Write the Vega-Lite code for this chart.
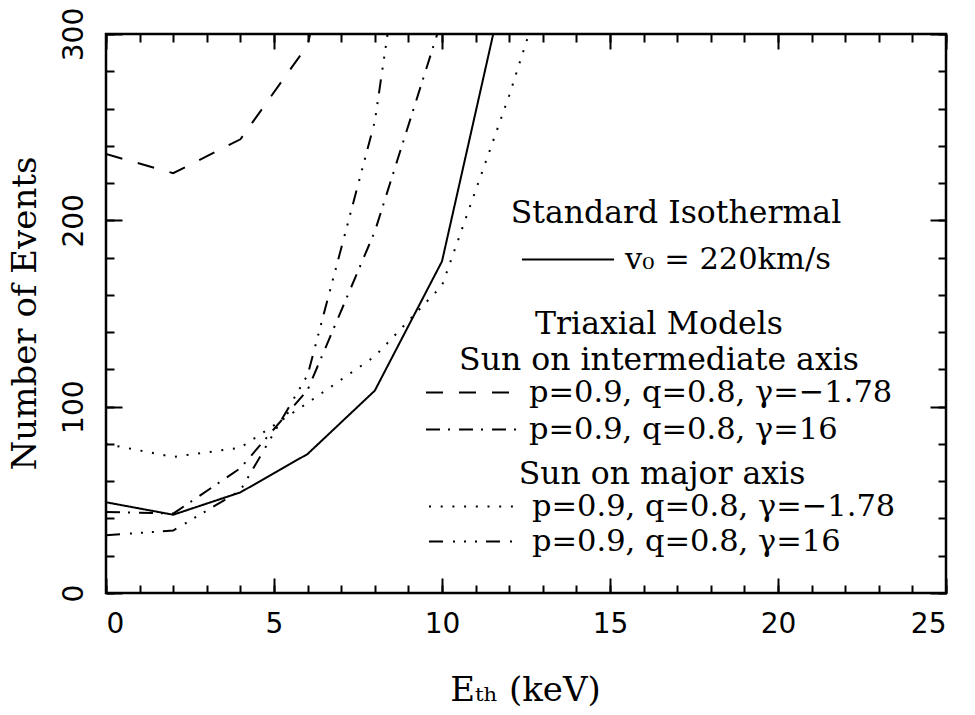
{
  "$schema": "https://vega.github.io/schema/vega-lite/v6.json",
  "width": 840,
  "height": 559,
  "autosize": "none",
  "padding": {"left": 106, "top": 34, "right": 29, "bottom": 122},
  "background": "white",
  "config": {
    "view": {"stroke": "black", "strokeWidth": 2.5},
    "axis": {"grid": false, "domain": false, "tickColor": "black", "tickWidth": 2, "labelColor": "black", "titleColor": "black", "labelFont": "DejaVu Sans", "labelFontSize": 28, "titleFont": "DejaVu Serif", "titleFontSize": 34, "titleFontWeight": "normal"},
    "legend": {"orient": "none", "labelFont": "DejaVu Serif", "labelFontSize": 30.5, "titleFont": "DejaVu Serif", "titleFontSize": 31.5, "titleFontWeight": "normal", "titleColor": "black", "labelColor": "black", "titleAnchor": "middle", "titleAlign": "center", "symbolType": "M-1,0H5.133", "symbolSize": 900, "symbolStrokeWidth": 2, "symbolStrokeColor": "black", "symbolFillColor": "transparent", "labelOffset": 72, "padding": 0, "rowPadding": 5, "labelLimit": 0, "titleLimit": 0, "titleLineHeight": 36}
  },
  "data": {"values": [
    {"group": "iso", "model": "v₀ = 220km/s", "E": 0, "N": 48.7},
    {"group": "iso", "model": "v₀ = 220km/s", "E": 2, "N": 42},
    {"group": "iso", "model": "v₀ = 220km/s", "E": 4, "N": 54},
    {"group": "iso", "model": "v₀ = 220km/s", "E": 6, "N": 74.6},
    {"group": "iso", "model": "v₀ = 220km/s", "E": 8, "N": 108.6},
    {"group": "iso", "model": "v₀ = 220km/s", "E": 10, "N": 178},
    {"group": "iso", "model": "v₀ = 220km/s", "E": 12, "N": 338},
    {"group": "int", "model": "p=0.9, q=0.8, γ=−1.78", "E": 0, "N": 235.6},
    {"group": "int", "model": "p=0.9, q=0.8, γ=−1.78", "E": 2, "N": 225.3},
    {"group": "int", "model": "p=0.9, q=0.8, γ=−1.78", "E": 4, "N": 243.5},
    {"group": "int", "model": "p=0.9, q=0.8, γ=−1.78", "E": 6, "N": 294},
    {"group": "int", "model": "p=0.9, q=0.8, γ=−1.78", "E": 8, "N": 450},
    {"group": "int", "model": "p=0.9, q=0.8, γ=16", "E": 0, "N": 43.5},
    {"group": "int", "model": "p=0.9, q=0.8, γ=16", "E": 2, "N": 42.6},
    {"group": "int", "model": "p=0.9, q=0.8, γ=16", "E": 4, "N": 67},
    {"group": "int", "model": "p=0.9, q=0.8, γ=16", "E": 6, "N": 109},
    {"group": "int", "model": "p=0.9, q=0.8, γ=16", "E": 8, "N": 194},
    {"group": "int", "model": "p=0.9, q=0.8, γ=16", "E": 10, "N": 308},
    {"group": "maj", "model": "p=0.9, q=0.8, γ=−1.78", "E": 0, "N": 80},
    {"group": "maj", "model": "p=0.9, q=0.8, γ=−1.78", "E": 2, "N": 73},
    {"group": "maj", "model": "p=0.9, q=0.8, γ=−1.78", "E": 4, "N": 78},
    {"group": "maj", "model": "p=0.9, q=0.8, γ=−1.78", "E": 6, "N": 102},
    {"group": "maj", "model": "p=0.9, q=0.8, γ=−1.78", "E": 8, "N": 127},
    {"group": "maj", "model": "p=0.9, q=0.8, γ=−1.78", "E": 10, "N": 165},
    {"group": "maj", "model": "p=0.9, q=0.8, γ=−1.78", "E": 12, "N": 267},
    {"group": "maj", "model": "p=0.9, q=0.8, γ=−1.78", "E": 14, "N": 380},
    {"group": "maj", "model": "p=0.9, q=0.8, γ=16", "E": 0, "N": 31},
    {"group": "maj", "model": "p=0.9, q=0.8, γ=16", "E": 2, "N": 33.5},
    {"group": "maj", "model": "p=0.9, q=0.8, γ=16", "E": 4, "N": 55},
    {"group": "maj", "model": "p=0.9, q=0.8, γ=16", "E": 6, "N": 117},
    {"group": "maj", "model": "p=0.9, q=0.8, γ=16", "E": 8, "N": 253},
    {"group": "maj", "model": "p=0.9, q=0.8, γ=16", "E": 10, "N": 500}
  ]},
  "resolve": {
    "scale": {"strokeDash": "independent"},
    "legend": {"strokeDash": "independent"},
    "axis": {"x": "independent", "y": "independent"}
  },
  "layer": [
    {
      "transform": [{"filter": "datum.group === 'iso'"}],
      "mark": {"type": "line", "clip": true, "color": "black", "strokeWidth": 2},
      "encoding": {
        "x": {"field": "E", "type": "quantitative", "scale": {"domain": [0, 25], "nice": false, "zero": false},
          "axis": {"orient": "bottom", "values": [0, 5, 10, 15, 20, 25], "tickSize": -15, "labelPadding": 32, "labelBaseline": "top", "title": "Eₜₕ (keV)", "titleX": 419, "titleY": 107, "titleBaseline": "alphabetic", "titleAlign": "center"}},
        "y": {"field": "N", "type": "quantitative", "scale": {"domain": [0, 300], "nice": false, "zero": false},
          "axis": {"orient": "left", "values": [0, 100, 200, 300], "tickSize": -16, "labelAngle": -90, "labelAlign": "center", "labelBaseline": "alphabetic", "labelPadding": 40, "title": "Number of Events", "titleAngle": -90, "titleX": -71, "titleY": 279, "titleAlign": "center", "titleBaseline": "alphabetic"}},
        "strokeDash": {"field": "model", "type": "nominal",
          "scale": {"domain": ["v₀ = 220km/s"], "range": [[1, 0]]},
          "legend": {"title": "Standard Isothermal", "legendX": 405, "legendY": 164, "titlePadding": 14}}
      }
    },
    {
      "transform": [{"filter": "datum.group === 'int'"}],
      "mark": {"type": "line", "clip": true, "color": "black", "strokeWidth": 2},
      "encoding": {
        "x": {"field": "E", "type": "quantitative",
          "axis": {"orient": "bottom", "values": [0,1,2,3,4,5,6,7,8,9,10,11,12,13,14,15,16,17,18,19,20,21,22,23,24,25], "tickSize": -8, "labels": false, "title": null}},
        "y": {"field": "N", "type": "quantitative",
          "axis": {"orient": "left", "values": [0,20,40,60,80,100,120,140,160,180,200,220,240,260,280,300], "tickSize": -8, "labels": false, "title": null}},
        "strokeDash": {"field": "model", "type": "nominal",
          "scale": {"domain": ["p=0.9, q=0.8, γ=−1.78", "p=0.9, q=0.8, γ=16"], "range": [[17, 16], [14, 8, 2, 9]]},
          "legend": {"title": ["Triaxial Models", "Sun on intermediate axis"], "legendX": 319, "legendY": 275, "titlePadding": 0, "rowPadding": 5}}
      }
    },
    {
      "transform": [{"filter": "datum.group === 'maj'"}],
      "mark": {"type": "line", "clip": true, "color": "black", "strokeWidth": 2},
      "encoding": {
        "x": {"field": "E", "type": "quantitative",
          "axis": {"orient": "top", "values": [0, 5, 10, 15, 20, 25], "tickSize": -15, "labels": false, "title": null}},
        "y": {"field": "N", "type": "quantitative",
          "axis": {"orient": "right", "values": [0, 100, 200, 300], "tickSize": -16, "labels": false, "title": null}},
        "strokeDash": {"field": "model", "type": "nominal",
          "scale": {"domain": ["p=0.9, q=0.8, γ=−1.78", "p=0.9, q=0.8, γ=16"], "range": [[2, 9.7], [14, 10, 2, 9, 2, 9, 2, 9]]},
          "legend": {"title": "Sun on major axis", "legendX": 322, "legendY": 425, "titlePadding": 0, "rowPadding": 3}}
      }
    },
    {
      "mark": {"type": "point", "opacity": 0, "clip": true},
      "encoding": {
        "x": {"field": "E", "type": "quantitative",
          "axis": {"orient": "top", "values": [0,1,2,3,4,5,6,7,8,9,10,11,12,13,14,15,16,17,18,19,20,21,22,23,24,25], "tickSize": -8, "labels": false, "title": null}},
        "y": {"field": "N", "type": "quantitative",
          "axis": {"orient": "right", "values": [0,20,40,60,80,100,120,140,160,180,200,220,240,260,280,300], "tickSize": -8, "labels": false, "title": null}}
      }
    }
  ]
}
